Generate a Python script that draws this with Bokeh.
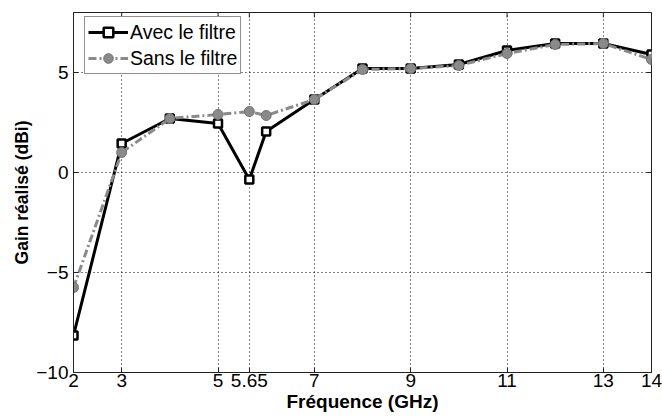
from bokeh.plotting import figure
from bokeh.models import FixedTicker, Range1d, Legend, LegendItem
from bokeh.embed import file_html
from bokeh.resources import INLINE

freq = [2, 3, 4, 5, 5.65, 6, 7, 8, 9, 10, 11, 12, 13, 14]
avec = [-8.15, 1.45, 2.7, 2.45, -0.35, 2.05, 3.65, 5.2, 5.2, 5.4, 6.1, 6.45, 6.45, 5.9]
sans = [-5.75, 1.0, 2.7, 2.9, 3.05, 2.85, 3.65, 5.15, 5.2, 5.35, 5.95, 6.4, 6.45, 5.65]
x_ticks = [2, 3, 5, 5.65, 7, 9, 11, 13, 14]
y_ticks = [-10, -5, 0, 5]

FONT = "Liberation Sans"
EDGE = "#222222"
X0, X1, Y0, Y1 = 2, 14, -10, 8
FW, FH = 578, 360  # frame size in px (for tick length conversion)

p = figure(width=662, height=418, output_backend="svg", toolbar_location=None,
           x_range=Range1d(X0, X1), y_range=Range1d(Y0, Y1),
           min_border_left=73, min_border_right=11, min_border_top=12, min_border_bottom=46)
p.background_fill_color = "white"
p.border_fill_color = "white"
p.outline_line_color = EDGE
p.outline_line_width = 1

for ax in (p.xaxis[0], p.yaxis[0]):
    ax.major_label_text_font = FONT
    ax.major_label_text_font_size = "19px"
    ax.major_label_text_color = "black"
    ax.axis_label_text_font = FONT
    ax.axis_label_text_font_style = "bold"
    ax.axis_label_text_color = "black"
    ax.major_tick_in = 5
    ax.major_tick_out = 0
    ax.minor_tick_line_color = None
    ax.axis_line_color = EDGE
    ax.major_tick_line_color = EDGE

p.xaxis[0].axis_label_text_font_size = "19px"
p.yaxis[0].axis_label_text_font_size = "17.5px"
p.xaxis[0].ticker = FixedTicker(ticks=x_ticks)
p.yaxis[0].ticker = FixedTicker(ticks=y_ticks)
p.xaxis[0].major_label_overrides = {5.65: "5.65"}
p.xaxis[0].axis_label = "Fréquence (GHz)"
p.yaxis[0].axis_label = "Gain réalisé (dBi)"
p.xaxis[0].axis_label_standoff = 1
p.yaxis[0].axis_label_standoff = 1
p.xaxis[0].major_label_standoff = 1
p.yaxis[0].major_label_standoff = 5

# inward ticks on the top and right edges of the box
tick_dy = (Y1 - Y0) * 5 / FH
tick_dx = (X1 - X0) * 5 / FW
p.segment(x0=x_ticks, y0=[Y1] * len(x_ticks), x1=x_ticks, y1=[Y1 - tick_dy] * len(x_ticks),
          line_color=EDGE, line_width=1)
p.segment(x0=[X1] * len(y_ticks), y0=y_ticks, x1=[X1 - tick_dx] * len(y_ticks), y1=y_ticks,
          line_color=EDGE, line_width=1)

p.xgrid.ticker = FixedTicker(ticks=x_ticks)
p.ygrid.ticker = FixedTicker(ticks=y_ticks)
for g in (p.xgrid[0], p.ygrid[0]):
    g.grid_line_color = "black"
    g.grid_line_dash = "1 3"
    g.grid_line_width = 1

l1 = p.line(freq, avec, line_color="black", line_width=3)
m1 = p.scatter(freq, avec, marker="square", size=8, fill_color="white",
               line_color="black", line_width=2.5)
l2 = p.line(freq, sans, line_color="#8a8a8a", line_width=3, line_dash="8 3 2 3")
m2 = p.scatter(freq, sans, marker="circle", size=10, fill_color="#8a8a8a",
               line_color="#707070", line_width=1)

legend = Legend(items=[LegendItem(label="Avec le filtre", renderers=[l1, m1]),
                       LegendItem(label="Sans le filtre", renderers=[l2, m2])],
                location=(11, 298))
legend.label_text_font = FONT
legend.label_text_font_size = "19.5px"
legend.label_text_color = "black"
legend.label_height = 24
legend.border_line_color = EDGE
legend.border_line_width = 1
legend.margin = 0
legend.padding = 3
legend.spacing = 2
legend.glyph_width = 40
legend.glyph_height = 24
legend.label_standoff = 2
legend.background_fill_alpha = 1
p.add_layout(legend)

open("out.html", "w").write(file_html(p, INLINE))
